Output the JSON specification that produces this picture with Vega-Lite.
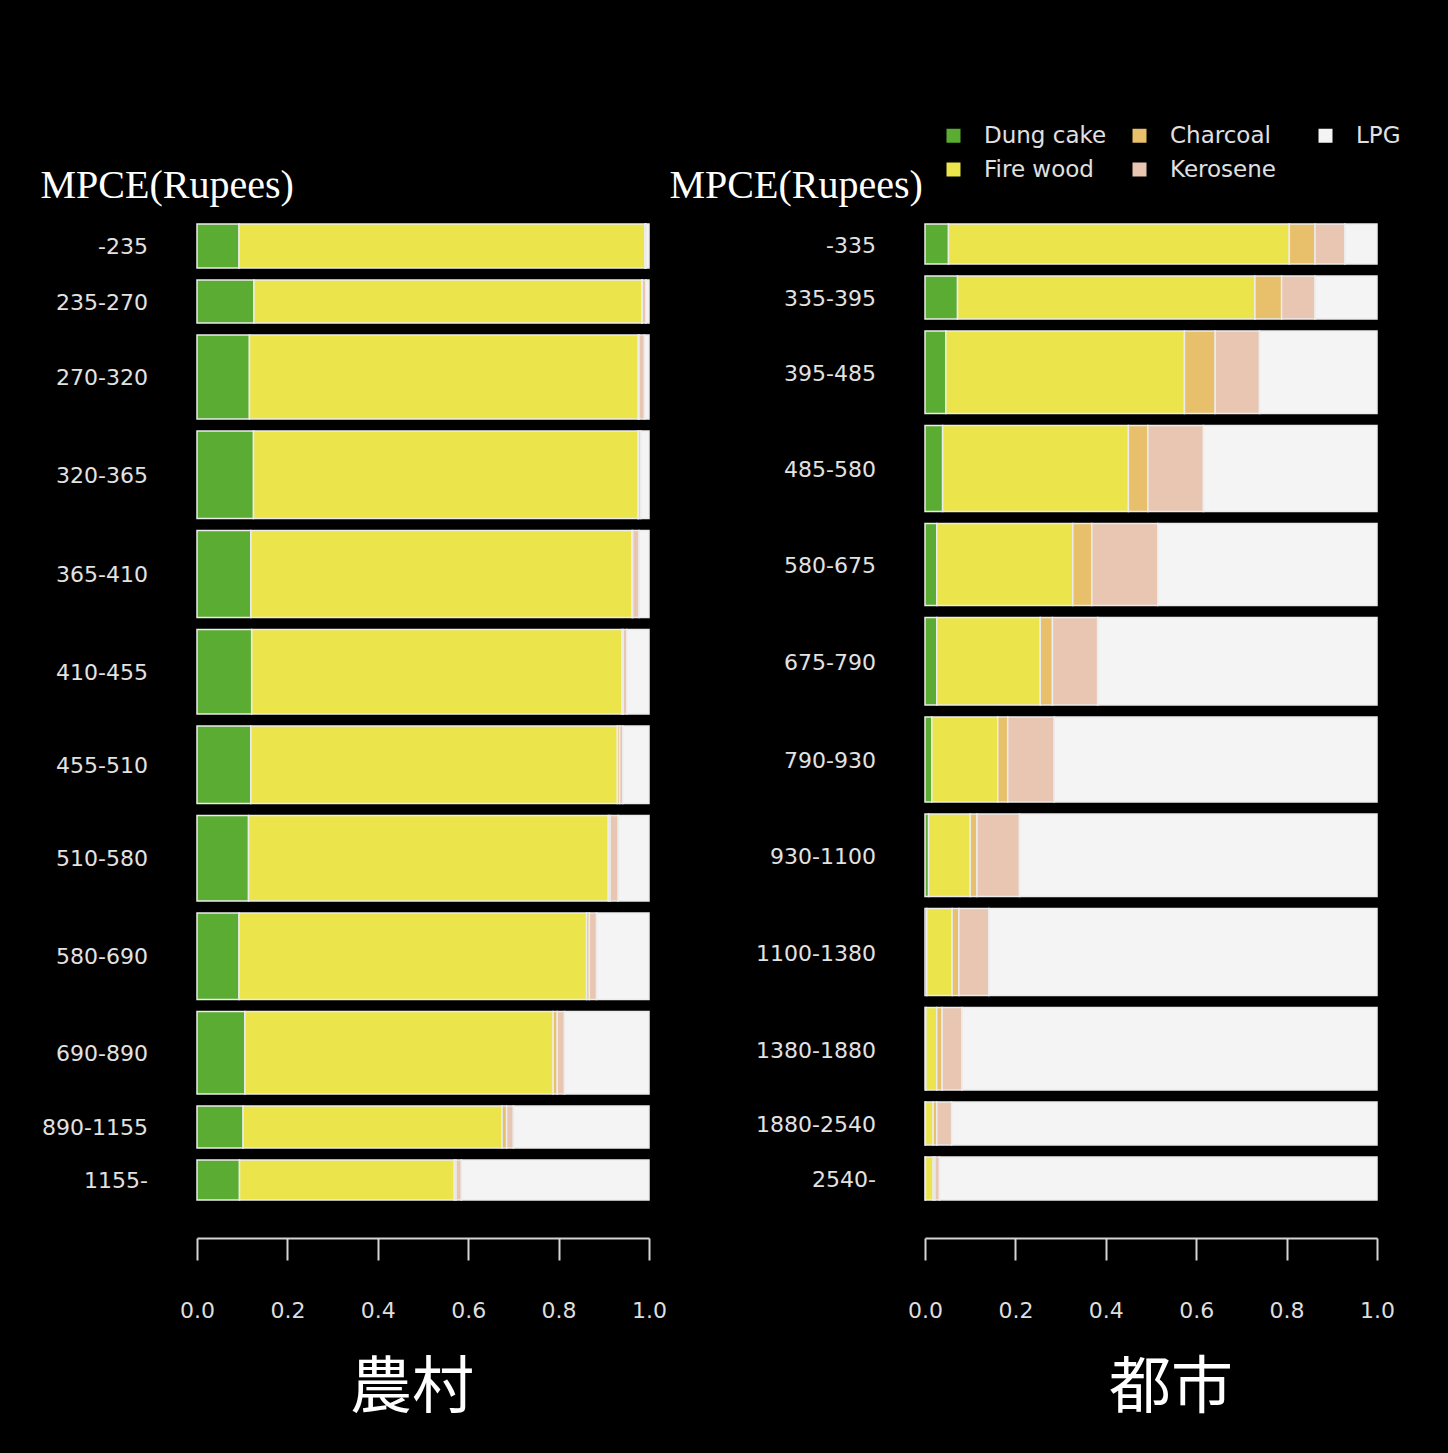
{
  "$schema": "https://vega.github.io/schema/vega-lite/v6.json",
  "background": "#000000",
  "padding": {"left": 40, "top": 124, "right": 100, "bottom": 100},
  "spacing": 2,
  "datasets": {
    "fuelorder": [
      {"fuel": "Dung cake", "fo": 1},
      {"fuel": "Fire wood", "fo": 2},
      {"fuel": "Charcoal", "fo": 3},
      {"fuel": "Kerosene", "fo": 4},
      {"fuel": "LPG", "fo": 5}
    ]
  },
  "data": {"values": [
    {"area": "農村", "cls": "-235", "ord": 1, "share": 5.67, "Dung cake": 0.093, "Fire wood": 0.898, "Charcoal": 0.001, "Kerosene": 0.002, "LPG": 0.006},
    {"area": "農村", "cls": "235-270", "ord": 2, "share": 5.57, "Dung cake": 0.126, "Fire wood": 0.858, "Charcoal": 0.001, "Kerosene": 0.008, "LPG": 0.007},
    {"area": "農村", "cls": "270-320", "ord": 3, "share": 9.72, "Dung cake": 0.116, "Fire wood": 0.860, "Charcoal": 0.002, "Kerosene": 0.012, "LPG": 0.010},
    {"area": "農村", "cls": "320-365", "ord": 4, "share": 10.07, "Dung cake": 0.125, "Fire wood": 0.851, "Charcoal": 0.001, "Kerosene": 0.005, "LPG": 0.018},
    {"area": "農村", "cls": "365-410", "ord": 5, "share": 10.02, "Dung cake": 0.119, "Fire wood": 0.843, "Charcoal": 0.002, "Kerosene": 0.014, "LPG": 0.022},
    {"area": "農村", "cls": "410-455", "ord": 6, "share": 9.77, "Dung cake": 0.121, "Fire wood": 0.819, "Charcoal": 0.003, "Kerosene": 0.008, "LPG": 0.049},
    {"area": "農村", "cls": "455-510", "ord": 7, "share": 9.06, "Dung cake": 0.119, "Fire wood": 0.811, "Charcoal": 0.005, "Kerosene": 0.007, "LPG": 0.058},
    {"area": "農村", "cls": "510-580", "ord": 8, "share": 9.87, "Dung cake": 0.114, "Fire wood": 0.796, "Charcoal": 0.004, "Kerosene": 0.018, "LPG": 0.068},
    {"area": "農村", "cls": "580-690", "ord": 9, "share": 9.97, "Dung cake": 0.093, "Fire wood": 0.769, "Charcoal": 0.006, "Kerosene": 0.016, "LPG": 0.116},
    {"area": "農村", "cls": "690-890", "ord": 10, "share": 9.56, "Dung cake": 0.106, "Fire wood": 0.682, "Charcoal": 0.009, "Kerosene": 0.016, "LPG": 0.187},
    {"area": "農村", "cls": "890-1155", "ord": 11, "share": 5.47, "Dung cake": 0.102, "Fire wood": 0.573, "Charcoal": 0.010, "Kerosene": 0.015, "LPG": 0.300},
    {"area": "農村", "cls": "1155-", "ord": 12, "share": 5.26, "Dung cake": 0.094, "Fire wood": 0.475, "Charcoal": 0.004, "Kerosene": 0.012, "LPG": 0.415},
    {"area": "都市", "cls": "-335", "ord": 1, "share": 5.26, "Dung cake": 0.052, "Fire wood": 0.754, "Charcoal": 0.057, "Kerosene": 0.066, "LPG": 0.071},
    {"area": "都市", "cls": "335-395", "ord": 2, "share": 5.57, "Dung cake": 0.072, "Fire wood": 0.658, "Charcoal": 0.059, "Kerosene": 0.074, "LPG": 0.137},
    {"area": "都市", "cls": "395-485", "ord": 3, "share": 9.56, "Dung cake": 0.046, "Fire wood": 0.528, "Charcoal": 0.068, "Kerosene": 0.098, "LPG": 0.260},
    {"area": "都市", "cls": "485-580", "ord": 4, "share": 9.92, "Dung cake": 0.039, "Fire wood": 0.411, "Charcoal": 0.043, "Kerosene": 0.123, "LPG": 0.384},
    {"area": "都市", "cls": "580-675", "ord": 5, "share": 9.51, "Dung cake": 0.026, "Fire wood": 0.301, "Charcoal": 0.042, "Kerosene": 0.146, "LPG": 0.485},
    {"area": "都市", "cls": "675-790", "ord": 6, "share": 10.07, "Dung cake": 0.026, "Fire wood": 0.229, "Charcoal": 0.027, "Kerosene": 0.100, "LPG": 0.618},
    {"area": "都市", "cls": "790-930", "ord": 7, "share": 9.82, "Dung cake": 0.015, "Fire wood": 0.146, "Charcoal": 0.022, "Kerosene": 0.103, "LPG": 0.714},
    {"area": "都市", "cls": "930-1100", "ord": 8, "share": 9.56, "Dung cake": 0.008, "Fire wood": 0.092, "Charcoal": 0.015, "Kerosene": 0.094, "LPG": 0.791},
    {"area": "都市", "cls": "1100-1380", "ord": 9, "share": 10.02, "Dung cake": 0.004, "Fire wood": 0.056, "Charcoal": 0.015, "Kerosene": 0.066, "LPG": 0.859},
    {"area": "都市", "cls": "1380-1880", "ord": 10, "share": 9.56, "Dung cake": 0.002, "Fire wood": 0.024, "Charcoal": 0.012, "Kerosene": 0.044, "LPG": 0.918},
    {"area": "都市", "cls": "1880-2540", "ord": 11, "share": 5.57, "Dung cake": 0.001, "Fire wood": 0.017, "Charcoal": 0.008, "Kerosene": 0.033, "LPG": 0.941},
    {"area": "都市", "cls": "2540-", "ord": 12, "share": 5.57, "Dung cake": 0.001, "Fire wood": 0.017, "Charcoal": 0.004, "Kerosene": 0.010, "LPG": 0.968}
  ]},
  "transform": [
    {"fold": ["Dung cake", "Fire wood", "Charcoal", "Kerosene", "LPG"], "as": ["fuel", "frac"]},
    {"lookup": "fuel", "from": {"data": {"name": "fuelorder"}, "key": "fuel", "fields": ["fo"]}},
    {"stack": "frac", "groupby": ["area", "cls"], "sort": [{"field": "fo"}], "offset": "normalize", "as": ["x0", "x1"]},
    {"stack": "share", "groupby": ["area", "fuel"], "sort": [{"field": "ord"}], "offset": "normalize", "as": ["y0", "y1"]}
  ],
  "resolve": {"legend": {"color": "independent"}},
  "hconcat": [
    {
      "width": 452,
      "height": 988,
      "transform": [{"filter": "datum.area === '農村'"}],
      "layer": [
        {
          "mark": {"type": "bar", "yOffset": 6, "y2Offset": -6, "stroke": "#ececec", "strokeWidth": 1.5},
          "encoding": {
            "x": {"field": "x0", "type": "quantitative", "scale": {"domain": [0, 1], "nice": false},
                  "axis": {"title": "農村", "titleX": 214.5, "values": [0, 0.2, 0.4, 0.6, 0.8, 1], "format": ".1f"}},
            "x2": {"field": "x1"},
            "y": {"field": "y0", "type": "quantitative", "scale": {"domain": [0, 1], "reverse": true, "nice": false},
                  "axis": {"title": "MPCE(Rupees)", "titleX": -157, "titleY": -21, "titleAngle": 0, "titleAlign": "left", "titleBaseline": "alphabetic", "labels": false, "ticks": false, "domain": false, "offset": 0, "titleFont": "Liberation Serif", "titleFontSize": 40}},
            "y2": {"field": "y1"},
            "color": {"field": "fuel", "type": "nominal",
                      "scale": {"domain": ["Dung cake", "Fire wood", "Charcoal", "Kerosene", "LPG"],
                                "range": ["#5aac32", "#ebe54b", "#e8bf6a", "#e8c6b2", "#f4f4f4"]},
                      "legend": null}
          }
        },
        {
          "transform": [{"filter": "datum.fuel === 'Dung cake'"}],
          "mark": {"type": "text", "align": "right", "baseline": "middle", "dx": -49, "dy": 1, "font": "DejaVu Sans", "fontSize": 22, "color": "#e2e2e2"},
          "encoding": {
            "x": {"datum": 0, "type": "quantitative", "scale": {"domain": [0, 1], "nice": false},
                  "axis": {"title": "農村", "titleX": 214.5, "values": [0, 0.2, 0.4, 0.6, 0.8, 1], "format": ".1f"}},
            "y": {"field": "share", "type": "quantitative", "stack": "normalize", "bandPosition": 0.5,
                  "scale": {"domain": [0, 1], "reverse": true, "nice": false},
                  "axis": {"title": "MPCE(Rupees)", "titleX": -157, "titleY": -21, "titleAngle": 0, "titleAlign": "left", "titleBaseline": "alphabetic", "labels": false, "ticks": false, "domain": false, "offset": 0, "titleFont": "Liberation Serif", "titleFontSize": 40}},
            "detail": {"field": "cls"},
            "order": {"field": "ord", "type": "quantitative"},
            "text": {"field": "cls"}
          }
        }
      ]
    },
    {
      "width": 452,
      "height": 988,
      "transform": [{"filter": "datum.area === '都市'"}],
      "layer": [
        {
          "mark": {"type": "bar", "yOffset": 6, "y2Offset": -6, "stroke": "#ececec", "strokeWidth": 1.5},
          "encoding": {
            "x": {"field": "x0", "type": "quantitative", "scale": {"domain": [0, 1], "nice": false},
                  "axis": {"title": "都市", "titleX": 245.5, "values": [0, 0.2, 0.4, 0.6, 0.8, 1], "format": ".1f"}},
            "x2": {"field": "x1"},
            "y": {"field": "y0", "type": "quantitative", "scale": {"domain": [0, 1], "reverse": true, "nice": false},
                  "axis": {"title": "MPCE(Rupees)", "titleX": -256, "titleY": -21, "titleAngle": 0, "titleAlign": "left", "titleBaseline": "alphabetic", "labels": false, "ticks": false, "domain": false, "offset": 0, "titleFont": "Liberation Serif", "titleFontSize": 40}},
            "y2": {"field": "y1"},
            "color": {"field": "fuel", "type": "nominal",
                      "scale": {"domain": ["Dung cake", "Fire wood", "Charcoal", "Kerosene", "LPG"],
                                "range": ["#5aac32", "#ebe54b", "#e8bf6a", "#e8c6b2", "#f4f4f4"]},
                      "legend": {"orient": "none", "legendX": 17, "legendY": -94, "columns": 3, "title": null,
                                 "symbolType": "square", "symbolSize": 196, "symbolStrokeWidth": 0,
                                 "labelFont": "DejaVu Sans", "labelFontSize": 23, "labelColor": "#e0e0e0",
                                 "labelOffset": 19, "columnPadding": 21, "rowPadding": 10, "gridAlign": "all", "padding": 0}}
          }
        },
        {
          "transform": [{"filter": "datum.fuel === 'Dung cake'"}],
          "mark": {"type": "text", "align": "right", "baseline": "middle", "dx": -49, "dy": 2, "font": "DejaVu Sans", "fontSize": 22, "color": "#e2e2e2"},
          "encoding": {
            "x": {"datum": 0, "type": "quantitative", "scale": {"domain": [0, 1], "nice": false},
                  "axis": {"title": "都市", "titleX": 245.5, "values": [0, 0.2, 0.4, 0.6, 0.8, 1], "format": ".1f"}},
            "y": {"field": "share", "type": "quantitative", "stack": "normalize", "bandPosition": 0.5,
                  "scale": {"domain": [0, 1], "reverse": true, "nice": false},
                  "axis": {"title": "MPCE(Rupees)", "titleX": -256, "titleY": -21, "titleAngle": 0, "titleAlign": "left", "titleBaseline": "alphabetic", "labels": false, "ticks": false, "domain": false, "offset": 0, "titleFont": "Liberation Serif", "titleFontSize": 40}},
            "detail": {"field": "cls"},
            "order": {"field": "ord", "type": "quantitative"},
            "text": {"field": "cls"}
          }
        }
      ]
    }
  ],
  "config": {
    "view": {"stroke": null},
    "axis": {
      "domainColor": "#d4d4d4", "domainWidth": 2, "tickColor": "#d4d4d4", "tickWidth": 2, "tickSize": 22,
      "labelFont": "DejaVu Sans", "labelFontSize": 22, "labelColor": "#dedede", "labelPadding": 40,
      "labelFlush": false, "labelOverlap": false, "grid": false,
      "titleFont": "Noto Sans CJK JP", "titleFontSize": 62, "titleFontWeight": "normal", "titleColor": "#ffffff",
      "titlePadding": 37, "titleAlign": "center"
    },
    "axisX": {"offset": 32}
  }
}
